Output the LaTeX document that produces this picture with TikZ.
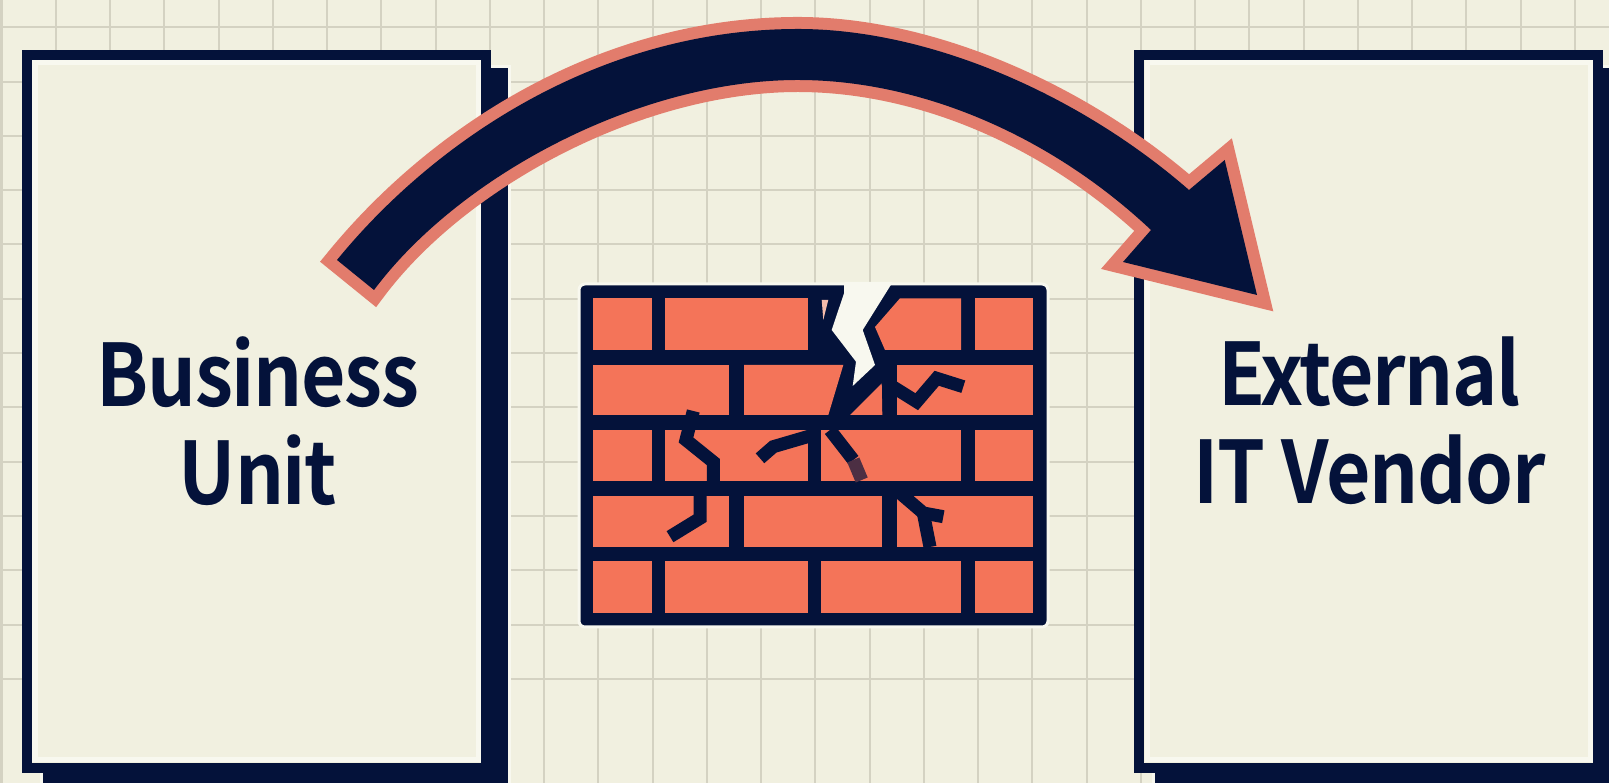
\documentclass[tikz,border=0pt]{standalone}
\usepackage{fontspec}
\setmainfont{Noto Sans CJK SC}[BoldFont={Noto Sans CJK SC Bold},BoldFeatures={FakeStretch=0.89,LetterSpace=-1.5}]

\definecolor{paper}{HTML}{F1F0E0}
\definecolor{rimwhite}{HTML}{F8F8EF}
\definecolor{gridgrey}{HTML}{D4D2C2}
\definecolor{navy}{HTML}{04123A}
\definecolor{salmon}{HTML}{E27C6C}
\definecolor{brickred}{HTML}{F47459}

\tikzset{
  gridline/.style={gridgrey, line width=0.02cm},
  panel/.style={rectangle, draw=navy, fill=paper, line width=0.1cm, inner sep=0pt},
  backing/.style={rectangle, fill=navy, draw=rimwhite, line width=0.03cm, inner sep=0pt},
  rim/.style={rimwhite, line width=0.05cm},
  title/.style={text=navy, align=center, inner sep=0pt, font=\fontsize{24.5}{27.9}\selectfont\bfseries},
  brick/.style={fill=brickred},
  crack/.style={navy, line width=0.13cm, line join=miter},
}

\begin{document}
\begin{tikzpicture}[x=0.01cm, y=-0.01cm]
  % 坐标单位: 1 = 参考图 1 像素, y 向下
  \clip (0,0) rectangle (1609,783);
  \fill[paper] (0,0) rectangle (1609,783);
  \foreach \i in {0,...,29} \draw[gridline] ({1.5+54.25*\i},0) -- ({1.5+54.25*\i},783);
  \foreach \j in {0,...,12} \draw[gridline] (0,{27.3+54.3*\j}) -- (1609,{27.3+54.3*\j});

  % 左右两个方框, 阴影向右下错开
  \node[backing, minimum width=4.67cm, minimum height=7.26cm] (unitback) at (275.5,430) {};
  \node[panel, minimum width=4.59cm, minimum height=7.13cm] (unit) at (256.5,411.5) {};
  \draw[rim] (35,63) rectangle (478,760);
  \node[backing, minimum width=4.67cm, minimum height=7.26cm] (vendorback) at (1387.5,430) {};
  \node[panel, minimum width=4.59cm, minimum height=7.13cm] (vendor) at (1368.5,411.5) {};
  \draw[rim] (1147,63) rectangle (1590,760);
  \node[title] (unitname) at (258,421) {Business\\Unit};
  \node[title] (vendorname) at (1369.5,421) {External\\IT Vendor};

  % 砖墙
  \fill[navy, rounded corners=0.6mm, draw=rimwhite, line width=0.03cm] (579,284) rectangle (1048,627);
  \foreach \t/\b in {430/481,561/613} \foreach \l/\r in {592.7/651.7,665.3/807.7,821/961,975.3/1033.3}
    \fill[brick] (\l,\t) rectangle (\r,\b);
  \foreach \l/\r in {592.7/651.7,665.3/807.7,975.3/1033.3}
    \fill[brick] (\l,298.3) rectangle (\r,350);
  \foreach \l/\r in {592.7/729.3,744/882.3,897.3/1033.3}
    \fill[brick] (\l,496) rectangle (\r,546.7);
  \fill[brick] (592.7,365) rectangle (729.3,415);
  \fill[brick] (897.3,365) rectangle (1033.3,415);
  % 裂口两侧被切掉的砖
  \fill[brick] (900,298.3) -- (961,298.3) -- (961,350) -- (885,350) -- (875,327) -- cycle;
  \fill[brick] (744,365) -- (843.3,365) -- (828.3,415) -- (744,415) -- cycle;
  \fill[brick] (881.7,383.3) -- (882.3,415) -- (850,415) -- cycle;
  \fill[brickred!45!rimwhite] (821.7,300) -- (828.3,300) -- (823.3,320) -- cycle;
  \fill[rimwhite] (844.3,282) -- (844,293.3) -- (831.7,330) -- (856,361.7) -- (852.7,386)
    -- (875,365) -- (862.7,330) -- (892.7,282) -- cycle;
  % 细裂纹
  \draw[crack] (693.3,411) -- (686,440) -- (713.3,462) -- (713.3,483);
  \draw[crack] (700,494) -- (700,518.3) -- (670,536.7);
  \draw[crack] (813.3,435) -- (773.3,446.7) -- (760,458.3);
  \draw[crack] (830,430) -- (853.3,460);
  \draw[crack, navy!70!brickred] (853.3,460) -- (861.7,480);
  \draw[crack] (890,385) -- (916.7,401.7) -- (936.7,378.3) -- (963.3,386.7);
  \draw[crack] (900,493) -- (923.3,513) -- (943.3,516.7);
  \draw[crack] (923.3,513) -- (930,547);

  % 弧形箭头, 先描边再填充
  \coordinate (tailtop) at (337,260);
  \coordinate (tailbot) at (374,290);
  \coordinate (archtop) at (798,29);
  \coordinate (archbot) at (798,80);
  \coordinate (barbtop) at (1189,190);
  \coordinate (headtop) at (1224.7,160);
  \coordinate (headtip) at (1257,295);
  \coordinate (headlow) at (1123,262);
  \coordinate (barblow) at (1151,230);
  \def\archpath{(tailtop) .. controls (435,140) and (600,29) .. (archtop)
    .. controls (930,29) and (1080,95) .. (barbtop)
    -- (headtop) -- (headtip) -- (headlow) -- (barblow)
    .. controls (1050,135) and (920,80) .. (archbot)
    .. controls (640,80) and (460,175) .. (tailbot) -- cycle}
  \draw[salmon, line width=0.24cm, miter limit=10] \archpath;
  \fill[navy] \archpath;
\end{tikzpicture}
\end{document}
